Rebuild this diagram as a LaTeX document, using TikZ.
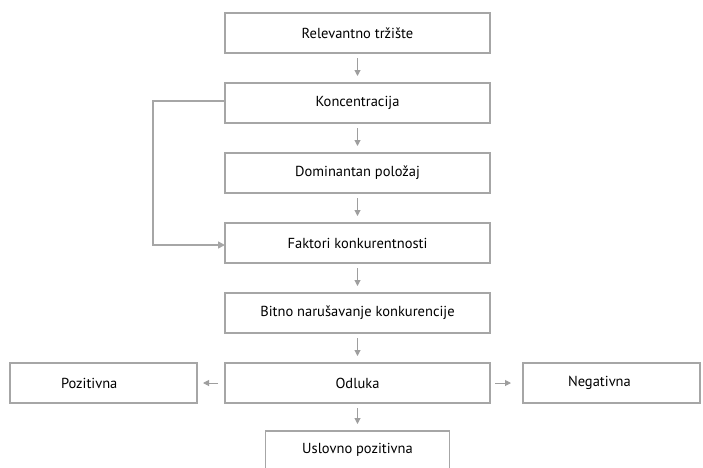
\documentclass[tikz,border=0pt]{standalone}
\usepackage{fontspec}
\setmainfont{PT Sans}
\usetikzlibrary{positioning,arrows.meta}
\definecolor{boxgray}{HTML}{A6A6A6}
\definecolor{arrgray}{HTML}{9E9E9E}

\begin{document}
\begin{tikzpicture}[x=1pt,y=-1pt,
            box/.style={
                rectangle, draw=boxgray, line width=1.3pt, minimum width=265pt,
                minimum height=40pt, inner sep=0pt, outer sep=0pt, text=black,
                font=\fontsize{14.5}{16}\selectfont},
            sidebox/.style={box, minimum width=0pt, align=left},
            link/.style={draw=arrgray, line width=1pt,
                -{Triangle[width=6pt,length=6pt]}},
            node distance=30pt]

            \clip (0,0) rectangle (703,467);

            \node [box] (rel) at (357.5,33) {Relevantno tržište};
            \node [box,below=of rel] (konc) {Koncentracija};
            \node [box,below=of konc] (dom) {Dominantan položaj};
            \node [box,below=of dom] (fakt) {Faktori konkurentnosti};
            \node [box,below=of fakt] (bitno) {Bitno narušavanje konkurencije};
            \node [box,below=of bitno] (odl) {Odluka};

            \node [sidebox,left=28pt of odl,text width=85pt,inner xsep=51pt] (poz) {Pozitivna};
            \node [sidebox,right=33pt of odl,text width=87pt,inner xsep=45pt] (neg) {Negativna};
            \node [box,below=28pt of odl,minimum width=184pt,minimum height=38pt] (usl) {Uslovno pozitivna};

            \draw [link,shorten <=5pt,shorten >=7pt] (rel) -- (konc);
            \draw [link,shorten <=5pt,shorten >=7pt] (konc) -- (dom);
            \draw [link,shorten <=5pt,shorten >=7pt] (dom) -- (fakt);
            \draw [link,shorten <=5pt,shorten >=7pt] (fakt) -- (bitno);
            \draw [link,shorten <=5pt,shorten >=7pt] (bitno) -- (odl);
            \draw [link,shorten <=5pt,shorten >=7pt] (odl) -- (usl);
            \draw [link,shorten <=7pt,shorten >=6pt] (odl) -- (poz);
            \draw [link,shorten <=5pt,shorten >=12pt] (odl) -- (neg);

            \draw [link,draw=boxgray,line width=1.5pt,-{Triangle[width=7pt,length=7pt]}]
                ([yshift=2pt]konc.west) -- ++(-72,0) |- ([yshift=-2pt]fakt.west);

        \end{tikzpicture}
\end{document}
